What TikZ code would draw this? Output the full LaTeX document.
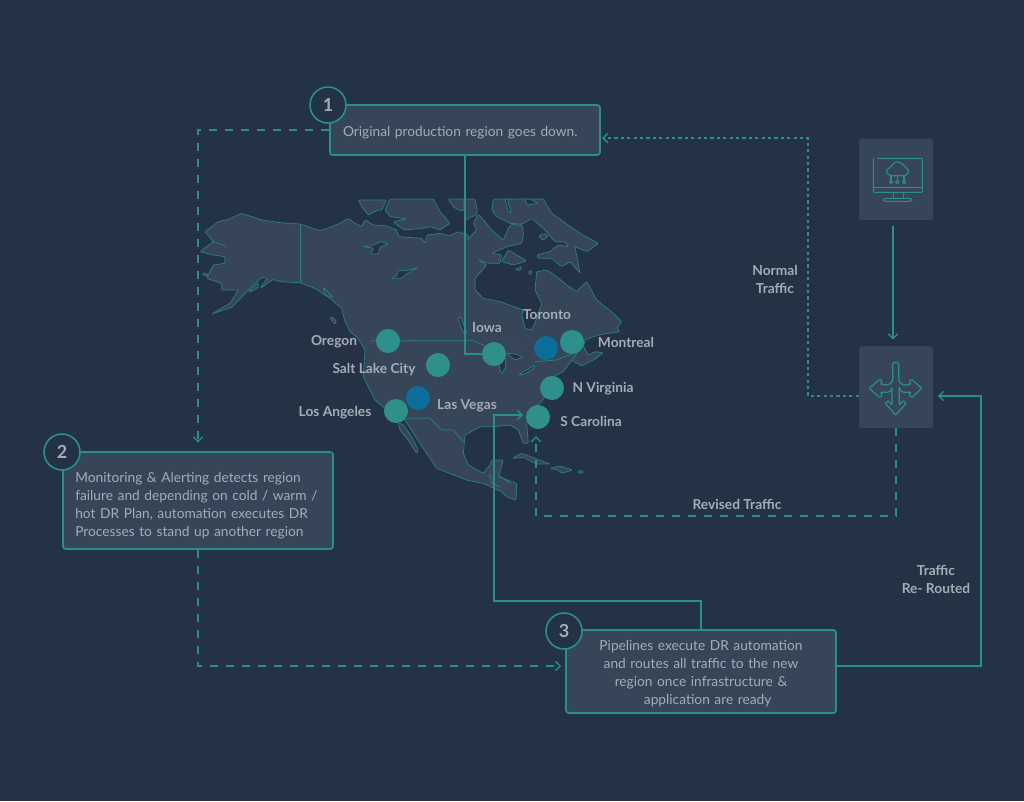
\documentclass[tikz,border=0pt]{standalone}
\usepackage{fontspec}
\setmainfont{Lato}
\usetikzlibrary{arrows.meta,calc}
\definecolor{bgc}{HTML}{243246}
\definecolor{boxc}{HTML}{374559}
\definecolor{tealc}{HTML}{2A8F8A}
\definecolor{mapl}{HTML}{2A7F7E}
\definecolor{dotc}{HTML}{2F8F8B}
\definecolor{bluec}{HTML}{0B6E9B}
\definecolor{txtc}{HTML}{A5ACB7}
\tikzset{
 land/.style={fill=boxc,draw=mapl,line width=.55pt,rounded corners=.8pt,line join=round},
 water/.style={fill=bgc,draw=mapl,line width=.55pt,rounded corners=.8pt,line join=round},
 border/.style={draw=mapl,line width=.6pt},
 fainted/.style={draw=mapl!45!boxc,line width=.4pt,dotted},
 flow/.style={draw=tealc,line width=1.3pt},
 longdash/.style={flow,dash pattern=on 6pt off 6pt},
 shortdash/.style={flow,dash pattern=on 2.4pt off 2.4pt},
 chev/.style={-{Straight Barb[length=3.6pt,width=7pt,line width=1pt]}},
 infobox/.style={draw=tealc,fill=boxc,line width=1.2pt,rounded corners=2pt,text=txtc,font=\fontsize{10.3}{13.5}\selectfont},
 numc/.style={circle,draw=tealc,fill=bgc,line width=1.2pt,minimum size=27pt,inner sep=0pt,text=txtc,font=\fontsize{13.5}{14}\bfseries\selectfont},
 iconbox/.style={fill=boxc,rounded corners=2pt,minimum width=55.5pt,inner sep=0pt},
 reg/.style={circle,fill=dotc,minimum size=18pt,inner sep=0pt},
 regb/.style={circle,fill=bluec,minimum size=18pt,inner sep=0pt},
 lab/.style={text=txtc,inner sep=0pt,font=\fontsize{10.3}{13.5}\bfseries\selectfont,align=center},
 icon/.style={draw=tealc,line width=.8pt,line join=round,rounded corners=.6pt}
}
\begin{document}
\begin{tikzpicture}[x=.75pt,y=-.75pt]
\fill[bgc] (0,0) rectangle (1024,801);
\useasboundingbox (0,0) rectangle (1024,801);
% ---- map (coordinates are 3x px, offset 190,190)
\begin{scope}[shift={(190,190)},x=.25pt,y=-.25pt]
\path[land] (45,125)--(85,95)--(115,88)--(155,70)--(215,90)--(270,98)--(330,102)--(390,122)--(420,112)--(450,100)--(475,85)--(495,100)--(515,110)--(525,90)--(550,105)--(590,108)--(620,120)--(625,140)--(695,145)--(705,160)--(712,135)--(750,130)--(780,137)--(805,125)--(835,135)--(833,150)--(860,120)--(850,100)--(865,72)--(910,125)--(940,150)--(955,115)--(965,103)--(998,107)--(1000,135)--(995,160)--(950,170)--(905,190)--(935,195)--(930,220)--(895,220)--(865,210)--(890,225)--(855,265)--(855,300)--(880,325)--(930,335)--(1000,360)--(995,375)--(1005,415)--(1025,420)--(1035,400)--(1055,340)--(1035,300)--(1040,245)--(1070,240)--(1100,260)--(1130,285)--(1160,305)--(1190,275)--(1220,330)--(1270,370)--(1295,395)--(1280,415)--(1290,425)--(1240,432)--(1210,440)--(1185,450)--(1180,470)--(1195,495)--(1215,485)--(1240,488)--(1210,510)--(1175,528)--(1145,510)--(1120,545)--(1090,560)--(1085,595)--(1050,640)--(1030,655)--(1010,700)--(1015,760)--(1000,760)--(985,720)--(960,705)--(910,710)--(870,710)--(825,735)--(820,790)--(835,825)--(880,850)--(900,825)--(905,810)--(940,810)--(925,860)--(980,880)--(978,930)--(950,920)--(935,905)--(880,880)--(830,870)--(740,835)--(730,820)--(690,760)--(645,690)--(590,660)--(555,630)--(520,560)--(525,480)--(505,445)--(480,425)--(465,395)--(455,355)--(420,325)--(375,295)--(330,278)--(270,275)--(250,268)--(210,295)--(232,265)--(215,262)--(180,295)--(125,352)--(65,372)--(120,340)--(145,300)--(95,300)--(95,280)--(50,265)--(70,225)--(105,220)--(105,200)--(70,195)--(30,185)--(70,155)--(110,170)--(70,155)--cycle;
% Baja
\path[land] (625,698)--(640,705)--(665,740)--(685,780)--(680,790)--(655,750)--(630,720)--cycle;
% Archipelago
\path[land] (505,30)--(515,50)--(535,75)--(560,62)--(575,60)--(590,30)--cycle;
\path[land] (600,27)--(585,60)--(600,80)--(650,87)--(610,95)--(628,110)--(645,120)--(695,115)--(720,110)--(750,120)--(780,100)--(750,65)--(730,27)--cycle;
\path[land] (775,27)--(790,50)--(805,60)--(822,62)--(822,27)--cycle;
\path[land] (826,27)--(855,27)--(862,60)--(858,75)--(840,82)--(826,90)--cycle;
\path[land] (910,27)--(905,60)--(920,80)--(960,100)--(995,103)--(1025,85)--(1065,120)--(1095,155)--(1125,155)--(1135,170)--(1105,165)--(1080,185)--(1040,195)--(1045,205)--(1085,205)--(1115,230)--(1140,215)--(1170,250)--(1155,170)--(1190,185)--(1225,160)--(1170,130)--(1120,95)--(1085,70)--(1060,27)--cycle;
\path[land] (935,215)--(955,180)--(1010,213)--(970,225)--cycle;
\path[land] (1045,140)--(1060,130)--(1075,138)--(1060,150)--cycle;
\path[land] (975,238)--(995,230)--(990,242)--cycle;
\path[land] (1015,248)--(1022,240)--(1026,250)--(1018,254)--cycle;
\path[land] (36,250)--(52,250)--(55,258)--(40,256)--cycle;
\path[land] (175,305)--(205,278)--(205,292)--(180,306)--cycle;
\path[land] (425,380)--(440,395)--(435,403)--(420,385)--cycle;
\path[land] (400,292)--(430,322)--(405,315)--cycle;
% inlets and lakes
\path[water] (945,27)--(955,65)--(965,70)--(955,40)--(955,27)--cycle;
\path[water] (1005,27)--(1010,45)--(1045,40)--(1020,27)--cycle;
\path[water] (520,170)--(545,168)--(570,155)--(595,160)--(570,172)--(565,192)--(540,192)--(552,175)--cycle;
\path[water] (605,265)--(622,255)--(625,240)--(648,243)--(685,232)--(650,252)--(635,265)--cycle;
\path[water] (805,380)--(815,385)--(820,405)--(832,428)--(822,430)--(810,405)--cycle;
\path[water] (932,505)--(945,500)--(947,530)--(935,552)--(928,535)--cycle;
\path[water] (985,555)--(1010,540)--(1035,525)--(1032,535)--(1005,552)--cycle;
\path[water] (950,490)--(975,492)--(1000,500)--(975,510)--cycle;
% borders
\draw[border] (330,102)--(330,278);
\draw[border] (540,453)--(850,452)--(880,465)--(915,490);
\draw[border] (1035,515)--(1100,510)--(1150,490);
\draw[border] (1145,510)--(1160,490);
\draw[border] (650,685)--(720,685)--(755,720)--(790,720)--(820,755);
\draw[border] (900,850)--(905,880)--(930,890);
\draw[border] (960,880)--(925,855);
\draw[fainted] (885,440)--(960,455)--(1010,470)--(1030,500);
\end{scope}
% Caribbean
\begin{scope}[shift={(480,390)},x=.25pt,y=-.25pt]
\path[land] (97,205)--(125,190)--(165,205)--(210,222)--(170,222)--(130,202)--cycle;
\path[land] (210,235)--(240,228)--(278,240)--(245,250)--(235,240)--cycle;
\path[land] (292,244)--(302,241)--(311,247)--(300,251)--cycle;
\end{scope}
% ---- region dots
\node[reg] (oregon) at (388,341) {};
\node[reg] (slc) at (438,365) {};
\node[reg] (iowa) at (494,354) {};
\node[regb] (toronto) at (546,348) {};
\node[reg] (montreal) at (572,342) {};
\node[reg] (nvirginia) at (552,388) {};
\node[reg] (scarolina) at (538,417) {};
\node[regb] (lasvegas) at (418,398) {};
\node[reg] (losangeles) at (396,411) {};
% ---- boxes
\node[infobox,minimum width=202.5pt,minimum height=37.5pt,inner xsep=9.5pt,text width=183pt,align=left] (b1) at (465,130) {\rule{0pt}{11pt}Original production region goes down.};
\node[infobox,minimum width=202.5pt,minimum height=72.75pt,inner xsep=9.25pt,text width=184pt,align=left] (b2) at (198,500.5) {\rule{0pt}{15pt}Monitoring \& Alerting detects region\\failure and depending on cold / warm /\\hot DR Plan, automation executes DR\\Processes to stand up another region};
\node[infobox,minimum width=202.5pt,minimum height=62.25pt,inner xsep=4pt,text width=194pt,align=center] (b3) at (701,671.5) {\rule{0pt}{11pt}Pipelines execute DR automation\\and routes all traffic to the new\\region once infrastructure \&\\\hspace*{10pt}application are ready};
\node[iconbox,minimum height=61pt] (mon) at (896,179.5) {};
\node[iconbox,minimum height=61.5pt] (lb) at (896,387) {};
% ---- connectors
\coordinate (r1) at (494,601);
\coordinate (r2) at (494,415);
\coordinate (r3) at (536,516);
\coordinate (r4) at (536,436);
\coordinate (r5) at (808,396);
\coordinate (r6) at (981,396);
\draw[longdash,chev,shorten >=6.5pt] (b1.west) -| (b2.north);
\draw[longdash,chev,shorten >=3pt] (b2.south) |- ($(b3.west)+(0,-5.5)$);
\draw[flow] (b1.south) |- (iowa.west);
\draw[flow,chev,shorten >=2pt] (b3.north) |- (r1) -- (r2) -- (r2 -| scarolina.west);
\draw[flow,chev,shorten >=3.5pt] ($(b3.east)+(0,-5.5)$) -| (r6) -- (r6 -| lb.east);
\draw[shortdash,chev,shorten >=1pt] ($(lb.west)+(0,9)$) -- (r5) |- ($(b1.east)+(0,8)$);
\draw[longdash,chev] (lb.south) |- (r3) -- (r4);
\draw[flow,chev,shorten >=4.5pt,shorten <=4pt] (mon.south -| 893,0) -- (lb.north -| 893,0);
% ---- number circles
\node[numc] (n1) at (328,105) {1};
\node[numc] (n2) at (62,452) {2};
\node[numc] (n3) at (564,631) {3};
% ---- monitor icon
\begin{scope}[shift={(840,130)},x=.25pt,y=-.25pt]
\draw[icon] (112,85)--(247,85)--(247,187)--(100,187)--(100,85);
\draw[icon] (100,172)--(247,172);
\draw[icon] (160,187)--(160,205) (190,187)--(190,205);
\draw[icon] (135,205)--(210,205)--(218,210)--(210,214)--(135,214)--(128,210)--cycle;
\draw[icon,rounded corners=0pt] plot[smooth cycle,tension=.7] coordinates {(150,136)(139,124)(150,112)(172,95)(193,108)(206,124)(196,136)(172,137)};
\draw[icon] (153,137)--(153,150) (172,137)--(172,150) (192,137)--(192,150);
\draw[icon] (153,156) circle[radius=1.3pt] (172,156) circle[radius=1.3pt] (192,156) circle[radius=1.3pt];
% ---- arrows icon
\draw[icon,line width=.9pt] (158,705) .. controls (158,695) and (176,695) .. (176,705)--(176,745) .. controls (176,760) and (190,765) .. (200,765)--(213,762)--(207,755)--(215,748)--(245,775)--(215,803)--(207,795)--(213,787)--(195,787) .. controls (188,787) and (178,780) .. (178,770)--(178,825)--(190,812)--(198,820)--(167,855)--(136,820)--(144,812)--(156,825)--(156,770) .. controls (156,780) and (146,787) .. (140,787)--(121,787)--(127,795)--(119,803)--(88,775)--(119,748)--(127,755)--(121,762)--(135,765) .. controls (145,765) and (158,760) .. (158,745)--cycle;
\end{scope}
% ---- labels
\node[lab] (l1) at (334,341.5) {Oregon};
\node[lab] (l2) at (374,369.5) {Salt Lake City};
\node[lab] (l3) at (487,328) {Iowa};
\node[lab] (l4) at (547,315) {Toronto};
\node[lab] (l5) at (626,342) {Montreal};
\node[lab] (l6) at (603,389) {N Virginia};
\node[lab] (l7) at (591,421) {S Carolina};
\node[lab] (l8) at (335,413) {Los Angeles};
\node[lab] (l9) at (467,406) {Las Vegas};
\node[lab] (l10) at (775,279) {Normal\\Traffic};
\node[lab] (l11) at (737,504.5) {Revised Traffic};
\node[lab] (l12) at (936,579) {Traffic\\Re- Routed};
\end{tikzpicture}
\end{document}
